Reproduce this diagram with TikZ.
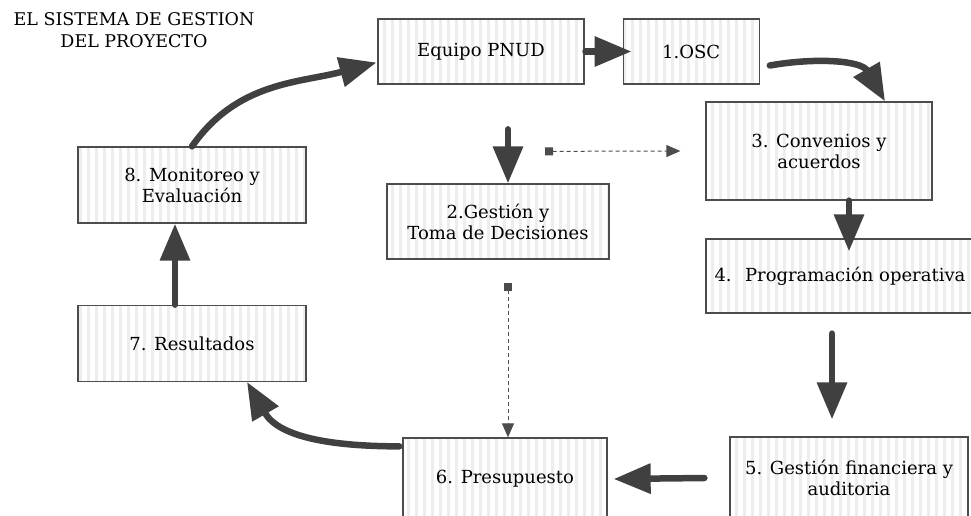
\documentclass[tikz,border=0pt]{standalone}
\usepackage{fontspec}
\setmainfont{DejaVu Serif}
\usepackage{tikz}
\usetikzlibrary{arrows.meta}
\usetikzlibrary{patterns.meta}
\usetikzlibrary{positioning}

\begin{document}
\begin{tikzpicture}[
		x=1pt, y=1pt,
		every node/.style={font=\fontsize{18}{21}\selectfont},
		box/.style={draw=black!70, line width=1.3pt, align=center, inner sep=0pt,
			pattern={Lines[angle=90, distance=8pt, line width=3pt]}, pattern color=black!7},
		bigarrow/.style={draw=black!75, line width=6.5pt, line cap=round,
			-{Triangle[length=37pt, width=29pt]}},
		dasharrow/.style={draw=black!70, line width=1pt, dash pattern=on 4pt off 3pt,
			{Square[length=8pt, width=8pt]}-{Triangle[length=14pt, width=12pt]}}
	]
	\useasboundingbox (0,0) rectangle (971,-515);

	% Title
	\node[align=center, font=\fontsize{17.5}{22}\selectfont] (title) at (134,-30) {EL SISTEMA DE GESTION\\DEL PROYECTO};

	% Top row
	\node[box, minimum width=206pt, minimum height=65pt] (equipo) at (481,-51.5) {Equipo PNUD};
	\node[box, minimum width=136pt, minimum height=65pt, right=37pt of equipo] (osc) {1.OSC};

	% Right column
	\node[box, minimum width=226pt, minimum height=98pt] (conv) at (819,-151) {3. Convenios y\\acuerdos};
	\node[box, minimum width=268pt, minimum height=74pt] (prog) at (840,-276) {4.~ Programación operativa};
	\node[box, minimum width=238pt, minimum height=82pt] (fin) at (849,-478) {5. Gestión financiera y\\auditoria};

	% Middle
	\node[box, minimum width=222pt, minimum height=75pt] (gest) at (498,-221.5) {2.Gestión y\\Toma de Decisiones};
	\node[box, minimum width=204pt, minimum height=82pt] (pres) at (505,-479) {6. Presupuesto};

	% Left column
	\node[box, minimum width=228pt, minimum height=76pt] (mon) at (192,-185) {8. Monitoreo y\\Evaluación};
	\node[box, minimum width=228pt, minimum height=76pt, below=81pt of mon] (res) {7. Resultados};

	% Arrows
	\draw[bigarrow] (mon.north) to[out=55, in=195] ([yshift=-11pt]equipo.west);
	\draw[bigarrow] (equipo.east) -- ([xshift=9pt]osc.west);
	\draw[bigarrow] ([xshift=10pt, yshift=-14pt]osc.east) to[out=10, in=120] ([xshift=66pt]conv.north);
	\draw[bigarrow] ([xshift=10pt, yshift=54pt]gest.north) -- ([xshift=10pt]gest.north);
	\draw[bigarrow] ([xshift=30pt]conv.south) -- ([xshift=30pt, yshift=-13pt]conv.south |- prog.north);
	\draw[bigarrow] ([xshift=-8pt, yshift=-20pt]prog.south) -- ([xshift=-17pt, yshift=17pt]fin.north);
	\draw[bigarrow] ([xshift=-25pt]fin.west) -- ([xshift=6pt]pres.east);
	\draw[bigarrow] ([xshift=-3pt, yshift=-9pt]pres.north west) to[out=180, in=-60] ([xshift=55pt]res.south);
	\draw[bigarrow] ([xshift=-17pt]res.north) -- ([xshift=-17pt]mon.south);

	% Dashed links
	\draw[dasharrow] ([xshift=47pt, yshift=32pt]gest.north) -- ([xshift=-25pt]conv.west);
	\draw[dasharrow] ([xshift=10pt, yshift=-23pt]gest.south) -- ([xshift=3pt]pres.north);

\end{tikzpicture}
\end{document}
